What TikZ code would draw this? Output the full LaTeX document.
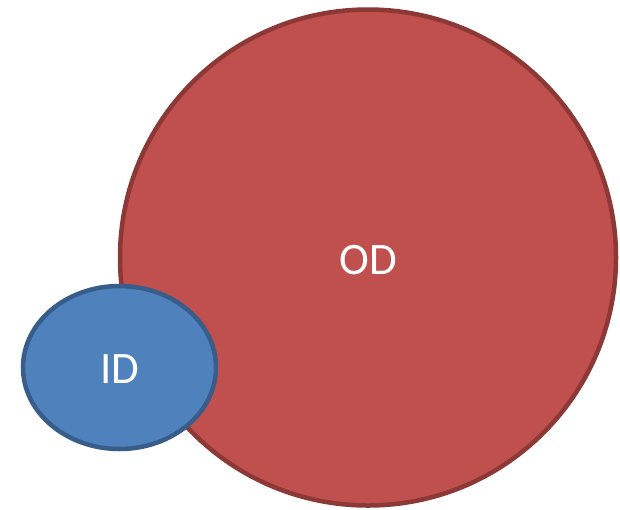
\documentclass[tikz,border=0pt]{standalone}
\usepackage{fontspec}
\setmainfont{Carlito}
\definecolor{odfill}{HTML}{C0504D}
\definecolor{odline}{HTML}{8C3836}
\definecolor{idfill}{HTML}{4F81BD}
\definecolor{idline}{HTML}{385D8A}
\begin{document}
\begin{tikzpicture}[x=1pt,y=-1pt,
  lbl/.style={text=white,font=\fontsize{45}{54}\selectfont}]
\useasboundingbox (0,0) rectangle (620,509);
\draw[odline,fill=odfill,line width=4.5pt] (368,257.5) circle [radius=248];
\node[lbl] (od) at (368,260) {OD};
\draw[idline,fill=idfill,line width=4.5pt] (119.5,367.5) ellipse [x radius=96.5,y radius=81.5];
\node[lbl] (id) at (120,369) {ID};
\end{tikzpicture}
\end{document}
